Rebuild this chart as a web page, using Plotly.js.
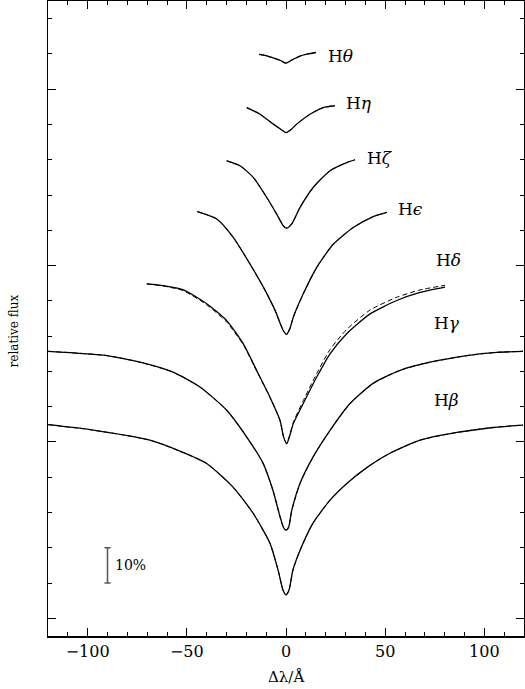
<!DOCTYPE html>
<html>
<head>
<meta charset="utf-8">
<script src="https://cdn.plot.ly/plotly-3.0.1.min.js"></script>
<style>html,body{margin:0;padding:0;background:#fff;}</style>
</head>
<body>
<div id="chart" style="width:525px;height:689px;"></div>
<script>
// Δλ (Å) and stacked relative flux
const hbX = [-119.9,-98.8,-68.6,-53.5,-40.0,-26.7,-16.6,-8.1,-4.0,-1.5,0,1.5,3.5,7.1,13.6,22.2,30.8,40.9,52.4,67.6,86.2,104.4,119.5];
const hbY = [0.549,0.535,0.505,0.474,0.439,0.372,0.298,0.213,0.137,0.080,0.067,0.080,0.137,0.193,0.270,0.335,0.383,0.428,0.468,0.505,0.527,0.541,0.548];

const hgX = [-119.9,-90.4,-73.6,-57.0,-43.4,-29.9,-19.8,-11.6,-6.6,-3.0,-1.3,0,1.3,2.9,7.1,13.6,22.2,32.3,43.9,57.5,72.6,91.3,106.4,119.5];
const hgY = [0.757,0.745,0.726,0.698,0.656,0.590,0.514,0.440,0.363,0.288,0.258,0.250,0.258,0.306,0.383,0.457,0.533,0.609,0.666,0.703,0.726,0.745,0.754,0.757];

const hdX = [-70.2,-61.9,-51.8,-40.0,-29.9,-21.5,-14.8,-8.1,-3.0,-1.3,0.35,1.8,3.7,8.7,15.5,22.2,30.6,42.4,55.8,67.6,80.2];
const hdY = [0.948,0.943,0.931,0.892,0.844,0.778,0.703,0.627,0.561,0.516,0.495,0.516,0.552,0.609,0.684,0.750,0.807,0.863,0.901,0.924,0.939];
const hdModelY = [0.948,0.942,0.929,0.889,0.840,0.775,0.701,0.627,0.561,0.516,0.495,0.518,0.556,0.617,0.694,0.762,0.819,0.874,0.910,0.931,0.944];

const heX = [-44.7,-34.9,-26.6,-18.2,-11.4,-5.5,-1.4,0.25,2.0,3.7,8.7,15.5,23.9,33.9,44.0,50.8];
const heY = [1.153,1.132,1.080,1.005,0.939,0.873,0.816,0.805,0.822,0.854,0.920,0.995,1.061,1.108,1.139,1.151];

const hzX = [-29.9,-23.2,-16.5,-9.7,-4.7,-1.4,0.35,2.9,7.1,13.8,22.2,30.6,34.8];
const hzY = [1.297,1.283,1.250,1.193,1.146,1.113,1.106,1.118,1.165,1.222,1.269,1.292,1.300];

const hetaX = [-19.8,-13.1,-6.4,-3.0,0,3.0,5.4,12.1,18.8,24.7];
const hetaY = [1.448,1.429,1.401,1.388,1.377,1.388,1.401,1.429,1.448,1.453];

const hthX = [-13.5,-10.6,-7.2,-3.0,0,3.0,7.1,11.1,15.1];
const hthY = [1.599,1.596,1.590,1.582,1.574,1.583,1.594,1.600,1.604];

const labelText = ['H<i>θ</i>','H<i>η</i>','H<i>ζ</i>','H<i>ϵ</i>','H<i>δ</i>','H<i>γ</i>','H<i>β</i>'];
const labelX = [20.2,29.2,39.8,55.5,74.6,73.6,73.6];
const labelY = [1.594,1.461,1.306,1.161,1.017,0.836,0.618];

const scaleBarX = [-90];
const scaleBarMid = [0.15];
const scaleBarHalf = [0.05];

const serif = 'DejaVu Serif, Liberation Serif, serif';
const traces = [];
const profiles = [[hbX,hbY,hbY],[hgX,hgY,hgY],[hdX,hdY,hdModelY],[heX,heY,heY],[hzX,hzY,hzY],[hetaX,hetaY,hetaY],[hthX,hthY,hthY]];
profiles.forEach(p => {
  traces.push({x:p[0], y:p[2], mode:'lines', line:{color:'#000', width:1, dash:'5px,3px', shape:'spline', smoothing:0.6}, hoverinfo:'skip', showlegend:false});
  traces.push({x:p[0], y:p[1], mode:'lines', line:{color:'#000', width:1.3, shape:'spline', smoothing:0.6}, hoverinfo:'skip', showlegend:false});
});
traces.push({x:scaleBarX, y:scaleBarMid, mode:'markers', marker:{size:1, color:'#555'},
  error_y:{type:'data', array:scaleBarHalf, visible:true, color:'#555', thickness:1.5, width:3}, showlegend:false, hoverinfo:'skip'});

const annotations = labelText.map((t,i) => ({x:labelX[i], y:labelY[i], xref:'x', yref:'y', text:t, showarrow:false, xanchor:'left', yanchor:'middle', font:{family:serif, size:17, color:'#000'}}));
annotations.push({x:scaleBarX[0]+3, y:scaleBarMid[0], xref:'x', yref:'y', text:'10%', showarrow:false, xanchor:'left', yanchor:'middle', font:{family:serif, size:14, color:'#000'}});
annotations.push({x:-0.071, y:0.48, xref:'paper', yref:'paper', text:'relative flux', textangle:-90, showarrow:false, xanchor:'center', yanchor:'middle', font:{family:serif, size:12, color:'#000'}});
annotations.push({x:0, y:-0.064, xref:'x', yref:'paper', text:'Δλ/Å', showarrow:false, xanchor:'center', yanchor:'middle', font:{family:serif, size:15, color:'#000'}});

const layout = {
  width:525, height:689,
  margin:{l:48, r:1, t:1, b:53},
  paper_bgcolor:'#fff', plot_bgcolor:'#fff',
  xaxis:{range:[-120,120], dtick:50, tick0:0, ticks:'inside', ticklen:8, tickwidth:1, tickcolor:'#000',
    minor:{dtick:10, ticks:'inside', ticklen:4, tickcolor:'#000'},
    showline:true, linecolor:'#000', linewidth:1.5, mirror:'ticks', showgrid:false, zeroline:false,
    tickfont:{family:serif, size:16, color:'#000'}},
  yaxis:{range:[-0.05,1.75], dtick:0.5, tick0:0, ticks:'inside', ticklen:8, tickwidth:1, tickcolor:'#000',
    minor:{dtick:0.1, ticks:'inside', ticklen:4, tickcolor:'#000'},
    showline:true, linecolor:'#000', linewidth:1.5, mirror:'ticks', showgrid:false, zeroline:false,
    showticklabels:false},
  annotations:annotations,
  showlegend:false
};
Plotly.newPlot('chart', traces, layout, {displayModeBar:false, staticPlot:true});
</script>
</body>
</html>
